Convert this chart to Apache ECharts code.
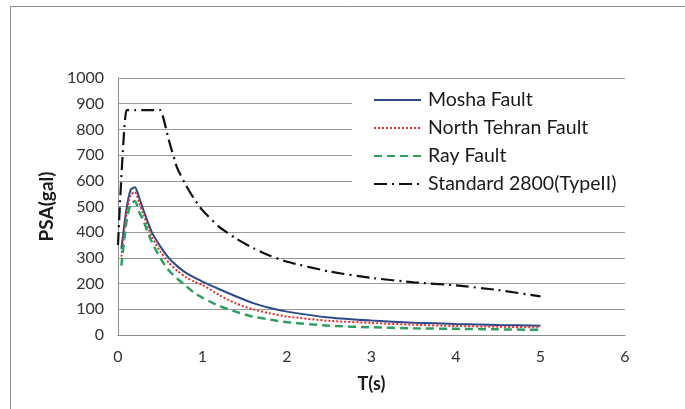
<!DOCTYPE html>
<html>
<head>
<meta charset="utf-8">
<script src="https://cdn.jsdelivr.net/npm/echarts@6/dist/echarts.min.js"></script>
<style>
  html, body { margin: 0; padding: 0; background: #fff; }
  #chart { width: 685px; height: 409px; }
</style>
</head>
<body>
<div id="chart"></div>
<script>
// periods (s)
var faultPeriods = [0.04, 0.1, 0.15, 0.2, 0.25, 0.3, 0.4, 0.5, 0.6, 0.7, 0.8, 0.9, 1.0, 1.2, 1.4, 1.6, 1.8, 2.0, 2.5, 3.0, 3.5, 4.0, 4.5, 5.0];
var mosha = [335, 490, 565, 575, 535, 487, 400, 345, 300, 268, 243, 224, 208, 178, 150, 124, 105, 91, 68, 56, 48, 43, 39, 36];
var northTehran = [305, 470, 545, 556, 515, 470, 382, 325, 282, 250, 226, 208, 195, 155, 122, 100, 84, 72, 55, 47, 40, 35, 32, 30];
var ray = [270, 440, 510, 520, 480, 445, 362, 300, 252, 220, 192, 165, 145, 113, 90, 71, 60, 50, 36, 30, 26, 24, 22, 20];

var stdPeriods = [0, 0.1, 0.2, 0.3, 0.4, 0.5, 0.6, 0.7, 0.8, 0.9, 1.0, 1.2, 1.4, 1.6, 1.8, 2.0, 2.5, 3.0, 3.5, 4.0, 4.5, 5.0];
var standard2800 = [350, 875, 875, 875, 875, 875, 760, 650, 585, 530, 485, 420, 375, 338, 308, 285, 247, 222, 205, 193, 175, 150];

function pairs(xs, ys) {
  return xs.map(function (x, i) { return [x, ys[i]]; });
}

var font = 'Lato, "Open Sans", sans-serif';

var chart = echarts.init(document.getElementById('chart'));

var option = {
  backgroundColor: '#fff',
  animation: false,
  textStyle: { fontFamily: font },
  graphic: [{
    type: 'rect',
    z: -1,
    shape: { x: 10.5, y: 6.5, width: 700, height: 430 },
    style: { fill: 'none', stroke: '#8c8c8c', lineWidth: 1 }
  }],
  grid: { left: 118, right: 60, top: 78, bottom: 74 },
  legend: {
    orient: 'vertical',
    left: 352,
    top: 88,
    itemWidth: 47,
    itemHeight: 14,
    itemGap: 8,
    padding: [2, 12, 4, 21],
    backgroundColor: '#fff',
    itemStyle: { color: 'rgba(0,0,0,0)', borderWidth: 0 },
    textStyle: { fontFamily: font, fontSize: 19.5, color: '#1a1a1a', padding: [0, 0, 0, 2] },
    data: ['Mosha Fault', 'North Tehran Fault', 'Ray Fault', 'Standard 2800(TypeII)']
  },
  xAxis: {
    type: 'value',
    min: 0, max: 6, interval: 1,
    name: 'T(s)',
    nameLocation: 'middle',
    nameGap: 40,
    nameTextStyle: { fontFamily: font, fontSize: 18, fontWeight: 'bold', color: '#1a1a1a' },
    axisLine: { show: true, lineStyle: { color: '#8c8c8c' } },
    axisTick: { show: false },
    axisLabel: { fontFamily: font, fontSize: 16, color: '#333', margin: 14 },
    splitLine: { show: false }
  },
  yAxis: {
    type: 'value',
    min: 0, max: 1000, interval: 100,
    name: 'PSA(gal)',
    nameLocation: 'middle',
    nameGap: 62,
    nameTextStyle: { fontFamily: font, fontSize: 19, fontWeight: 'bold', color: '#1a1a1a' },
    axisLine: { show: true, lineStyle: { color: '#8c8c8c' } },
    axisTick: { show: false },
    axisLabel: { fontFamily: font, fontSize: 16, color: '#333', margin: 14, formatter: function (v) { return String(v); } },
    splitLine: { show: true, lineStyle: { color: '#9a9a9a', width: 1 } }
  },
  series: [
    {
      name: 'Mosha Fault', type: 'line', symbol: 'none', smooth: 0.25,
      data: pairs(faultPeriods, mosha),
      lineStyle: { color: '#2a4a8a', width: 2 },
      itemStyle: { color: '#2a4a8a' }
    },
    {
      name: 'North Tehran Fault', type: 'line', symbol: 'none', smooth: 0.25,
      data: pairs(faultPeriods, northTehran),
      lineStyle: { color: '#e0302c', width: 2, type: [2, 2] },
      itemStyle: { color: '#e0302c' }
    },
    {
      name: 'Ray Fault', type: 'line', symbol: 'none', smooth: 0.25,
      data: pairs(faultPeriods, ray),
      lineStyle: { color: '#2e9e5e', width: 2.5, type: [8, 5] },
      itemStyle: { color: '#2e9e5e' }
    },
    {
      name: 'Standard 2800(TypeII)', type: 'line', symbol: 'none', smooth: 0.15,
      data: pairs(stdPeriods, standard2800),
      lineStyle: { color: '#111', width: 2.2, type: [13, 5, 2, 5] },
      itemStyle: { color: '#111' }
    }
  ]
};

chart.setOption(option);
</script>
</body>
</html>
